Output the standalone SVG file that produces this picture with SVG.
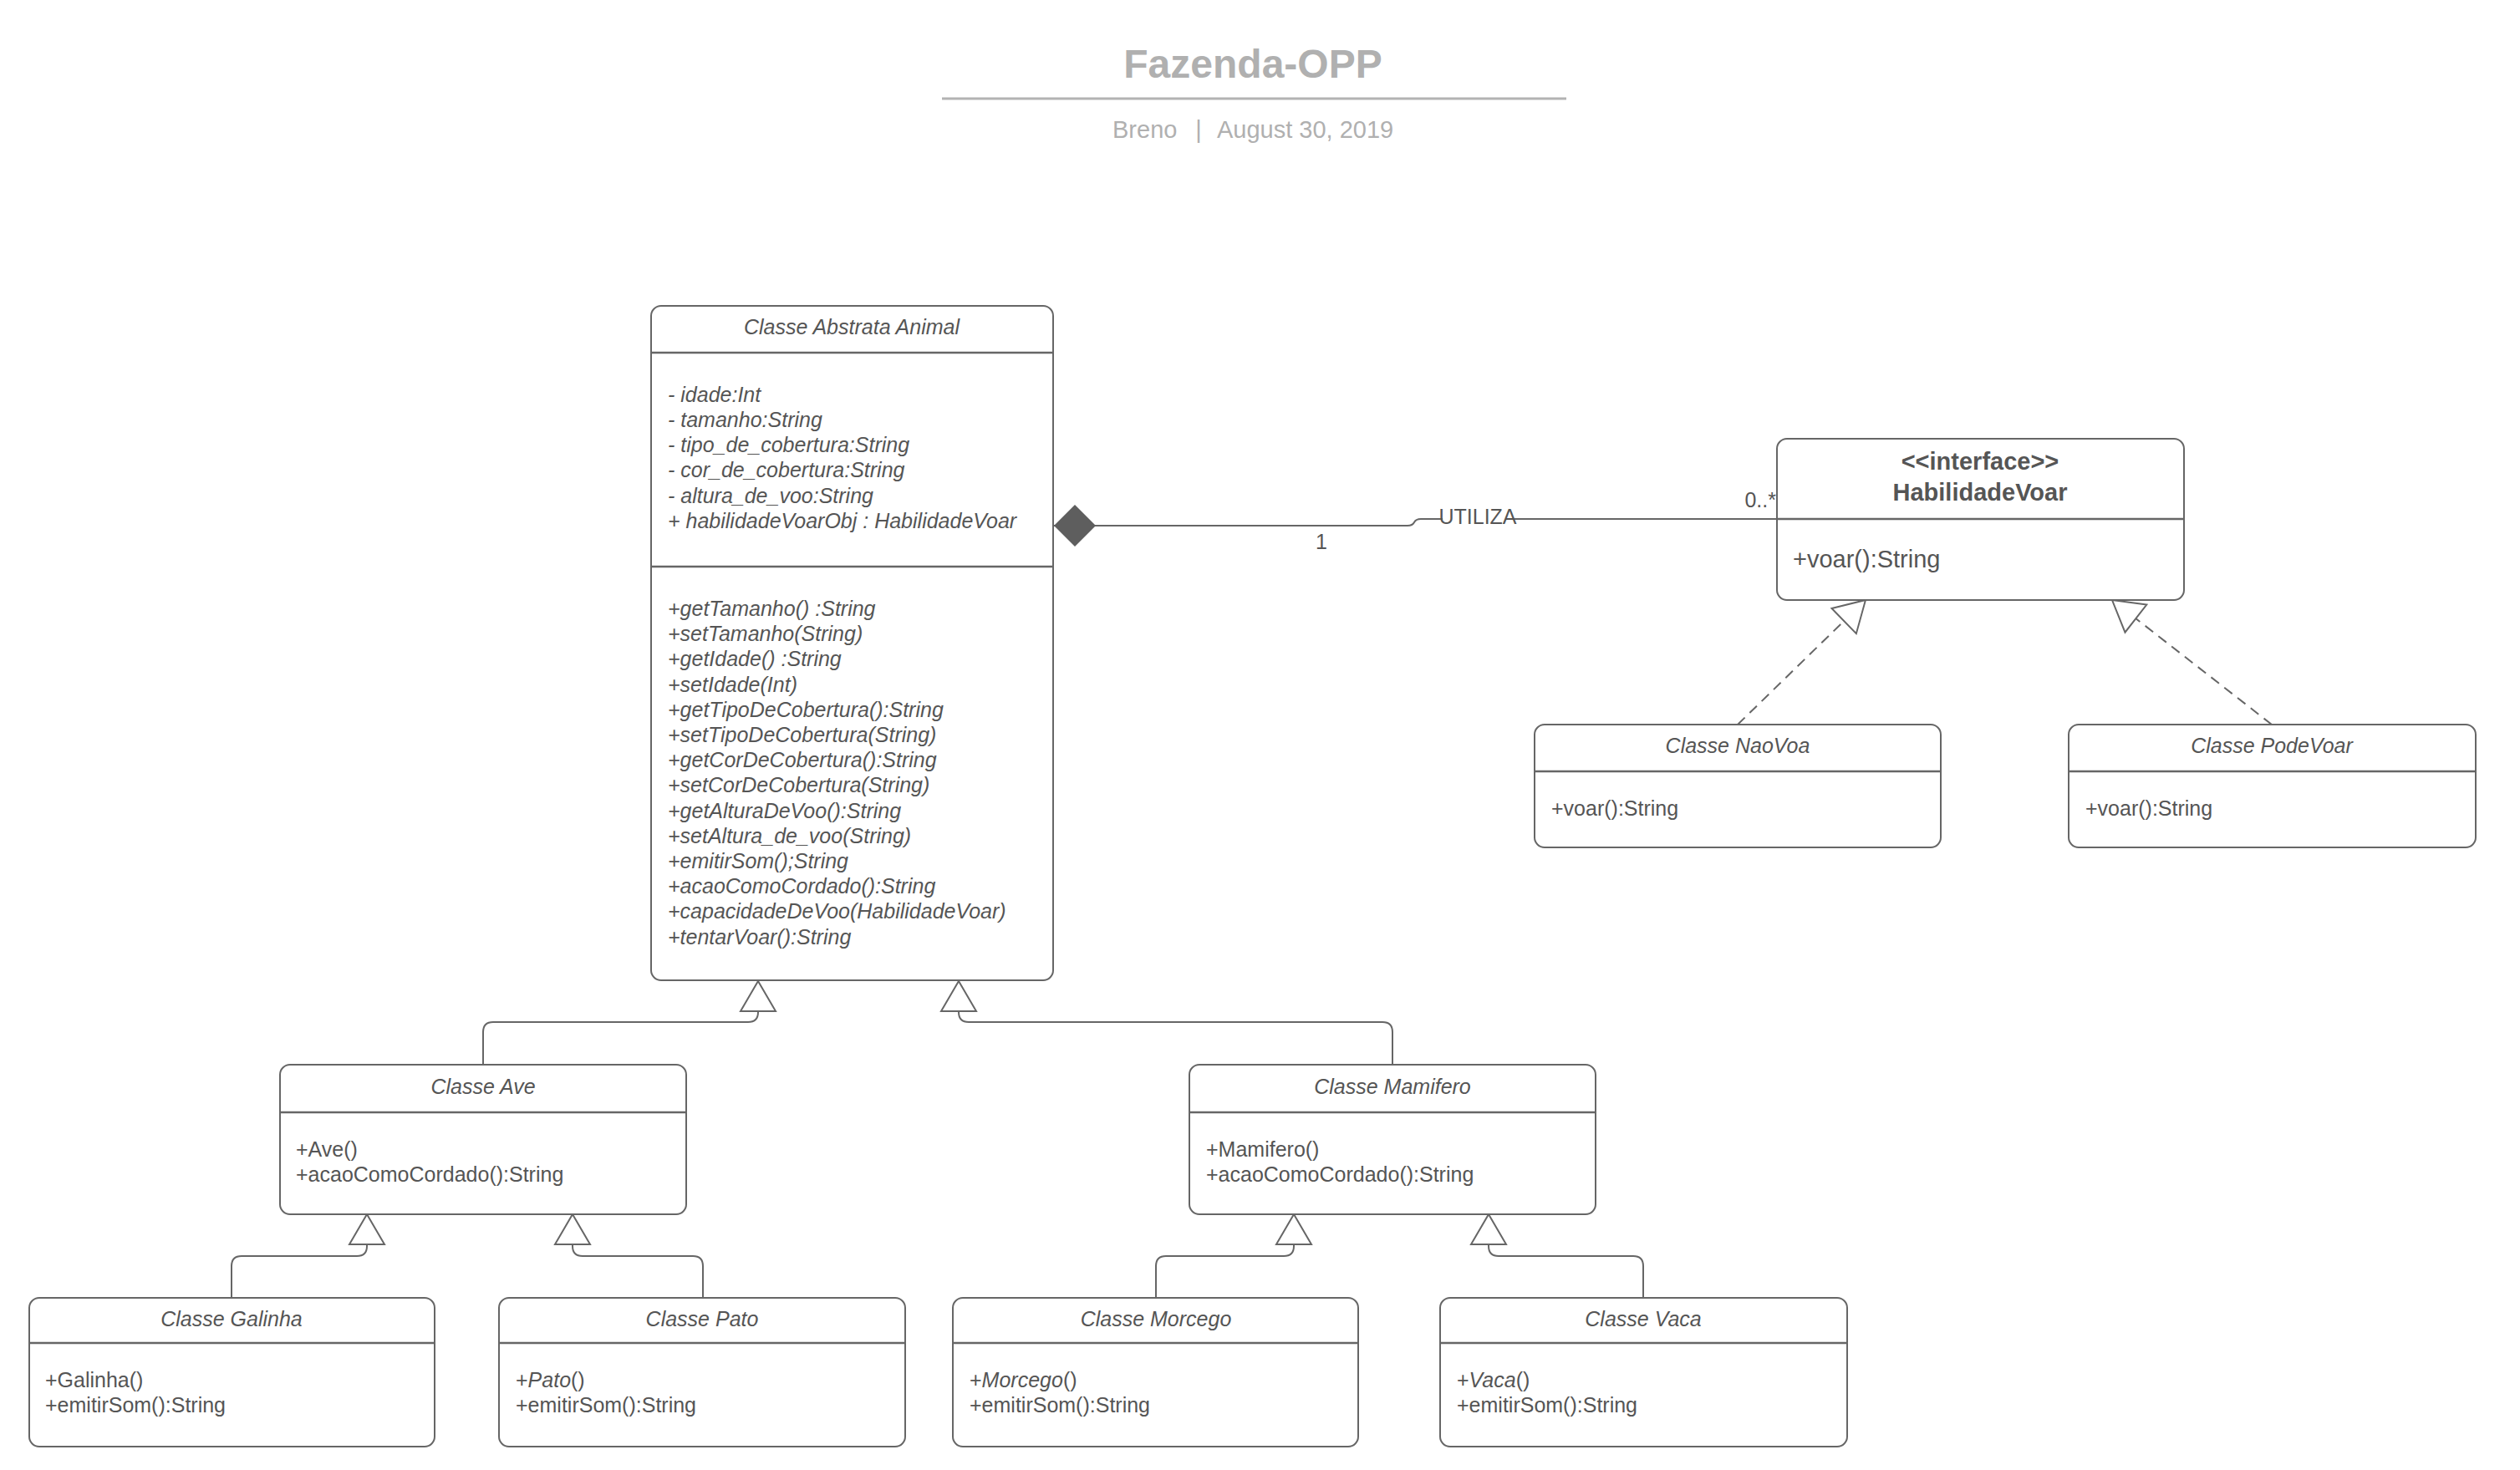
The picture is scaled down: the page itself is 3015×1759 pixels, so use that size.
<svg xmlns="http://www.w3.org/2000/svg" width="3015" height="1759" viewBox="0 0 3015 1759">
  <style>
    .box { fill: #ffffff; stroke: #666666; stroke-width: 2; }
    .div { stroke: #666666; stroke-width: 2.5; fill: none; }
    .t { font-family: "Liberation Sans", Arial, sans-serif; font-size: 25px; fill: #555555; }
    .i { font-style: italic; }
    .c { text-anchor: middle; }
    .big { font-size: 29px; }
    .b { font-weight: bold; }
    .line { fill: none; stroke: #666666; stroke-width: 2; }
    .dash { stroke-dasharray: 12 8; }
    .head { font-family: "Liberation Sans", Arial, sans-serif; fill: #b0b0b0; }
  </style>
  <defs>
    <marker id="hollow" markerUnits="userSpaceOnUse" markerWidth="46" markerHeight="46" refX="36" refY="22" orient="auto" overflow="visible">
      <path d="M0,1 L36,22 L0,43 Z" fill="#ffffff" stroke="#666666" stroke-width="2" stroke-dasharray="none"/>
    </marker>
    <marker id="diamond" markerUnits="userSpaceOnUse" markerWidth="52" markerHeight="52" refX="0" refY="25" orient="auto" overflow="visible">
      <path d="M0,25 L25,0 L50,25 L25,50 Z" fill="#5e5e5e" stroke="none"/>
    </marker>
  </defs>
  <rect width="3015" height="1759" fill="#ffffff"/>

  <!-- page heading -->
  <g id="heading">
    <text class="head" x="1499" y="93" font-size="48" font-weight="bold" text-anchor="middle">Fazenda-OPP</text>
    <line x1="1127" y1="118" x2="1874" y2="118" stroke="#b3b3b3" stroke-width="3"/>
    <text class="head" x="1331" y="165" font-size="29">Breno</text>
    <text class="head" x="1434" y="165" font-size="29" text-anchor="middle">|</text>
    <text class="head" x="1456" y="165" font-size="29">August 30, 2019</text>
  </g>

  <!-- connectors -->
  <g id="connectors">
    <!-- composition Animal -> HabilidadeVoar -->
    <path class="line" d="M1261,629 H1684 Q1690,629 1692,625 Q1694,621 1700,621 H2126" marker-start="url(#diamond)"/>
    <rect x="1726" y="609" width="84" height="22" fill="#ffffff"/>
    <text class="t" x="1768" y="627" font-size="19" text-anchor="middle">UTILIZA</text>
    <text class="t c" x="1581" y="657">1</text>
    <text class="t" x="2125" y="607" text-anchor="end">0..*</text>

    <!-- realizations -->
    <path class="line dash" d="M2079,867 L2232,718" marker-end="url(#hollow)"/>
    <path class="line dash" d="M2718,867 L2527,718" marker-end="url(#hollow)"/>

    <!-- generalizations to Animal -->
    <path class="line" d="M578,1274 V1235 Q578,1223 590,1223 H895 Q907,1223 907,1211 V1174" marker-end="url(#hollow)"/>
    <path class="line" d="M1666,1274 V1235 Q1666,1223 1654,1223 H1159 Q1147,1223 1147,1211 V1174" marker-end="url(#hollow)"/>

    <!-- generalizations to Ave -->
    <path class="line" d="M277,1553 V1515 Q277,1503 289,1503 H427 Q439,1503 439,1491 V1453" marker-end="url(#hollow)"/>
    <path class="line" d="M841,1553 V1515 Q841,1503 829,1503 H697 Q685,1503 685,1491 V1453" marker-end="url(#hollow)"/>

    <!-- generalizations to Mamifero -->
    <path class="line" d="M1383,1553 V1515 Q1383,1503 1395,1503 H1536 Q1548,1503 1548,1491 V1453" marker-end="url(#hollow)"/>
    <path class="line" d="M1966,1553 V1515 Q1966,1503 1954,1503 H1793 Q1781,1503 1781,1491 V1453" marker-end="url(#hollow)"/>
  </g>

  <!-- abstract class Animal -->
  <g id="animal">
    <rect class="box" x="779" y="366" width="481" height="807" rx="12"/>
    <line class="div" x1="779" y1="422" x2="1260" y2="422"/>
    <line class="div" x1="779" y1="678" x2="1260" y2="678"/>
    <text class="t i c" x="1019" y="400">Classe Abstrata Animal</text>
    <text class="t i">
      <tspan x="799" y="481">- idade:Int</tspan>
      <tspan x="799" y="511">- tamanho:String</tspan>
      <tspan x="799" y="541">- tipo_de_cobertura:String</tspan>
      <tspan x="799" y="571">- cor_de_cobertura:String</tspan>
      <tspan x="799" y="602">- altura_de_voo:String</tspan>
      <tspan x="799" y="632">+ habilidadeVoarObj : HabilidadeVoar</tspan>
    </text>
    <text class="t i">
      <tspan x="799" y="737">+getTamanho() :String</tspan>
      <tspan x="799" y="767">+setTamanho(String)</tspan>
      <tspan x="799" y="797">+getIdade() :String</tspan>
      <tspan x="799" y="828">+setIdade(Int)</tspan>
      <tspan x="799" y="858">+getTipoDeCobertura():String</tspan>
      <tspan x="799" y="888">+setTipoDeCobertura(String)</tspan>
      <tspan x="799" y="918">+getCorDeCobertura():String</tspan>
      <tspan x="799" y="948">+setCorDeCobertura(String)</tspan>
      <tspan x="799" y="979">+getAlturaDeVoo():String</tspan>
      <tspan x="799" y="1009">+setAltura_de_voo(String)</tspan>
      <tspan x="799" y="1039">+emitirSom();String</tspan>
      <tspan x="799" y="1069">+acaoComoCordado():String</tspan>
      <tspan x="799" y="1099">+capacidadeDeVoo(HabilidadeVoar)</tspan>
      <tspan x="799" y="1130">+tentarVoar():String</tspan>
    </text>
  </g>

  <!-- interface HabilidadeVoar -->
  <g id="habilidadeVoar">
    <rect class="box" x="2126" y="525" width="487" height="193" rx="12"/>
    <line class="div" x1="2126" y1="621" x2="2613" y2="621"/>
    <text class="t big b c" x="2369" y="562">&lt;&lt;interface&gt;&gt;</text>
    <text class="t big b c" x="2369" y="599">HabilidadeVoar</text>
    <text class="t big" x="2145" y="679">+voar():String</text>
  </g>

  <g id="naoVoa">
    <rect class="box" x="1836" y="867" width="486" height="147" rx="12"/>
    <line class="div" x1="1836" y1="923" x2="2322" y2="923"/>
    <text class="t i c" x="2079" y="901">Classe NaoVoa</text>
    <text class="t" x="1856" y="976">+voar():String</text>
  </g>

  <g id="podeVoar">
    <rect class="box" x="2475" y="867" width="487" height="147" rx="12"/>
    <line class="div" x1="2475" y1="923" x2="2962" y2="923"/>
    <text class="t i c" x="2718" y="901">Classe PodeVoar</text>
    <text class="t" x="2495" y="976">+voar():String</text>
  </g>

  <g id="ave">
    <rect class="box" x="335" y="1274" width="486" height="179" rx="12"/>
    <line class="div" x1="335" y1="1331" x2="821" y2="1331"/>
    <text class="t i c" x="578" y="1309">Classe Ave</text>
    <text class="t">
      <tspan x="354" y="1384">+Ave()</tspan>
      <tspan x="354" y="1414">+acaoComoCordado():String</tspan>
    </text>
  </g>

  <g id="mamifero">
    <rect class="box" x="1423" y="1274" width="486" height="179" rx="12"/>
    <line class="div" x1="1423" y1="1331" x2="1909" y2="1331"/>
    <text class="t i c" x="1666" y="1309">Classe Mamifero</text>
    <text class="t">
      <tspan x="1443" y="1384">+Mamifero()</tspan>
      <tspan x="1443" y="1414">+acaoComoCordado():String</tspan>
    </text>
  </g>

  <g id="galinha">
    <rect class="box" x="35" y="1553" width="485" height="178" rx="12"/>
    <line class="div" x1="35" y1="1607" x2="520" y2="1607"/>
    <text class="t i c" x="277" y="1587">Classe Galinha</text>
    <text class="t">
      <tspan x="54" y="1660">+Galinha()</tspan>
      <tspan x="54" y="1690">+emitirSom():String</tspan>
    </text>
  </g>

  <g id="pato">
    <rect class="box" x="597" y="1553" width="486" height="178" rx="12"/>
    <line class="div" x1="597" y1="1607" x2="1083" y2="1607"/>
    <text class="t i c" x="840" y="1587">Classe Pato</text>
    <text class="t">
      <tspan x="617" y="1660">+<tspan class="i">Pato</tspan>()</tspan>
      <tspan x="617" y="1690">+emitirSom():String</tspan>
    </text>
  </g>

  <g id="morcego">
    <rect class="box" x="1140" y="1553" width="485" height="178" rx="12"/>
    <line class="div" x1="1140" y1="1607" x2="1625" y2="1607"/>
    <text class="t i c" x="1383" y="1587">Classe Morcego</text>
    <text class="t">
      <tspan x="1160" y="1660">+<tspan class="i">Morcego</tspan>()</tspan>
      <tspan x="1160" y="1690">+emitirSom():String</tspan>
    </text>
  </g>

  <g id="vaca">
    <rect class="box" x="1723" y="1553" width="487" height="178" rx="12"/>
    <line class="div" x1="1723" y1="1607" x2="2210" y2="1607"/>
    <text class="t i c" x="1966" y="1587">Classe Vaca</text>
    <text class="t">
      <tspan x="1743" y="1660">+<tspan class="i">Vaca</tspan>()</tspan>
      <tspan x="1743" y="1690">+emitirSom():String</tspan>
    </text>
  </g>
</svg>
